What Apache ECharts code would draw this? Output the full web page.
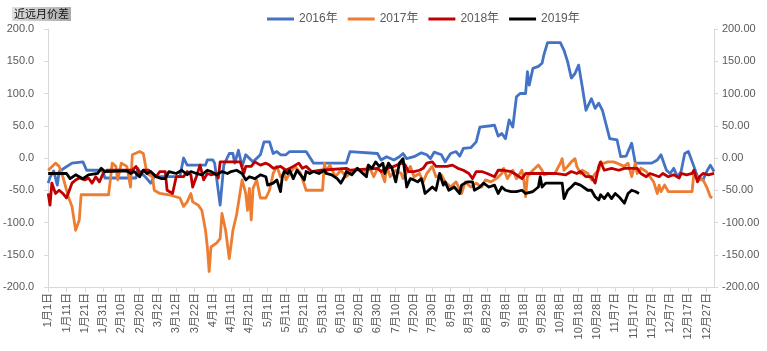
<!DOCTYPE html>
<html>
<head>
<meta charset="utf-8">
<script src="https://cdn.jsdelivr.net/npm/echarts@6/dist/echarts.min.js"></script>
<style>html,body{margin:0;padding:0;background:#fff;}#c{width:767px;height:351px;}</style>
</head>
<body>
<div id="c"></div>
<script>
// ---- data ----
const titleText = '近远月价差';
const seriesNames = ['2016年', '2017年', '2018年', '2019年'];
const monthDays = [31, 28, 31, 30, 31, 30, 31, 31, 30, 31, 30, 31];
const categories = [];
monthDays.forEach((n, m) => { for (let d = 1; d <= n; d++) categories.push((m + 1) + '月' + d + '日'); });
const yTicks = { min: -200, max: 200, interval: 50 };

// [day index, value]
const s2016 = [[0,-39],[1,-30],[3,-20],[5,-42],[6,-21],[13,-8],[19,-6],[21,-19],[28,-19],[30,-21],[31,-31],[48,-31],[49,-16],[50,-21],[53,-29],[56,-39],[58,-29],[64,-29],[72,-29],[74,0],[76,-11],[86,-11],[87,-3],[90,-3],[91,-8],[94,-73],[96,-11],[99,7],[101,7],[102,-8],[104,12],[106,-13],[108,5],[112,-6],[116,5],[118,25],[121,25],[123,7],[125,10],[127,5],[130,5],[132,10],[141,10],[144,-3],[145,-8],[163,-8],[165,10],[180,7],[182,-3],[185,2],[189,-3],[192,2],[194,7],[196,-1],[200,2],[204,8],[207,5],[209,-1],[211,9],[215,5],[217,-6],[220,7],[223,10],[225,3],[227,15],[231,16],[234,25],[236,48],[242,50],[244,51],[246,34],[248,38],[250,30],[252,59],[254,48],[256,95],[258,100],[261,100],[262,134],[263,113],[265,139],[268,142],[270,147],[271,160],[272,162],[273,179],[280,179],[282,167],[284,149],[286,124],[288,131],[290,144],[292,110],[294,74],[297,92],[299,77],[301,85],[303,74],[307,30],[311,28],[313,2],[316,3],[319,23],[321,-8],[330,-8],[333,-3],[335,5],[338,-19],[340,-24],[342,-16],[344,-29],[346,-21],[348,7],[350,10],[353,-13],[355,-29],[358,-34],[360,-21],[362,-11],[364,-21]];
const s2017 = [[0,-19],[4,-8],[6,-13],[8,-29],[11,-60],[12,-63],[13,-75],[15,-112],[17,-96],[18,-57],[33,-57],[34,-34],[35,-8],[37,-13],[38,-34],[40,-8],[43,-13],[45,-45],[46,5],[50,10],[52,7],[54,-24],[57,-29],[58,-50],[61,-55],[66,-57],[72,-62],[74,-75],[76,-68],[78,-55],[79,-68],[82,-73],[84,-81],[86,-112],[87,-138],[88,-176],[89,-138],[92,-132],[94,-125],[95,-86],[97,-112],[99,-156],[101,-112],[103,-88],[104,-91],[106,-34],[108,-55],[109,-81],[110,-47],[111,-96],[112,-47],[114,-34],[116,-62],[119,-62],[121,-50],[123,-24],[125,-13],[127,-29],[129,-24],[130,-34],[132,-24],[135,-13],[138,-24],[141,-50],[150,-50],[151,-8],[152,-21],[154,-11],[157,-29],[160,-19],[163,-29],[166,-21],[169,-16],[173,-24],[175,-11],[178,-29],[180,-16],[182,-21],[184,-37],[185,-13],[187,-29],[190,-19],[193,-24],[194,-32],[198,-13],[200,-29],[203,-24],[205,-37],[207,-24],[210,-13],[212,-29],[215,-26],[217,-37],[220,-45],[223,-37],[226,-55],[228,-37],[231,-45],[234,-39],[237,-45],[239,-34],[242,-37],[245,-32],[248,-24],[249,-16],[251,-32],[254,-19],[256,-32],[259,-19],[260,-34],[261,-60],[262,-29],[265,-19],[268,-11],[270,-19],[271,-26],[274,-24],[277,-24],[280,-8],[281,-1],[282,-19],[284,-13],[286,-6],[288,-1],[289,-13],[291,-24],[292,-19],[295,-24],[297,-34],[299,-24],[301,-19],[302,-8],[304,-8],[306,-6],[309,-6],[311,-8],[312,-6],[315,-13],[317,-8],[319,-29],[321,-8],[322,-24],[324,-16],[327,-21],[329,-29],[331,-37],[333,-55],[334,-42],[335,-52],[337,-42],[339,-52],[352,-52],[353,-24],[355,-29],[356,-34],[358,-34],[360,-45],[362,-60],[363,-62]];
const s2018 = [[0,-55],[1,-73],[2,-39],[4,-55],[6,-50],[8,-55],[10,-62],[12,-47],[13,-39],[15,-34],[17,-31],[20,-34],[22,-31],[24,-39],[26,-29],[28,-37],[30,-24],[32,-19],[46,-19],[48,-13],[50,-24],[52,-19],[55,-19],[57,-24],[59,-29],[61,-21],[64,-21],[65,-50],[68,-55],[70,-29],[74,-29],[76,-21],[78,-26],[79,-45],[81,-29],[83,-11],[85,-34],[87,-24],[89,-26],[92,-24],[93,-31],[94,-6],[105,-6],[106,-3],[107,-24],[108,-13],[111,-13],[113,-6],[116,-11],[119,-8],[121,-11],[123,-16],[127,-13],[130,-19],[131,-16],[134,-13],[137,-8],[139,-16],[141,-13],[144,-21],[149,-19],[163,-16],[165,-19],[180,-16],[182,-21],[185,-16],[189,-13],[193,-8],[195,-10],[197,-21],[200,-21],[203,-19],[205,-16],[207,-8],[210,-6],[212,-13],[218,-13],[221,-11],[224,-16],[227,-19],[230,-24],[232,-32],[234,-21],[237,-21],[240,-24],[244,-29],[246,-19],[249,-19],[253,-21],[256,-26],[259,-32],[261,-24],[262,-21],[277,-24],[283,-26],[286,-21],[289,-24],[291,-21],[294,-29],[297,-29],[299,-39],[301,-13],[302,-6],[304,-19],[308,-16],[312,-19],[315,-16],[322,-16],[324,-24],[325,-21],[327,-29],[329,-24],[331,-26],[334,-29],[336,-24],[339,-29],[342,-26],[345,-31],[346,-24],[349,-26],[352,-24],[353,-19],[355,-37],[356,-29],[358,-24],[361,-26],[364,-24]];
const s2019 = [[0,-24],[10,-24],[12,-32],[15,-26],[19,-32],[22,-26],[27,-24],[29,-16],[31,-21],[43,-20],[45,-24],[47,-21],[50,-29],[52,-19],[54,-24],[56,-21],[59,-29],[62,-32],[64,-32],[66,-21],[70,-24],[73,-19],[76,-26],[78,-21],[81,-24],[84,-26],[87,-19],[89,-21],[92,-26],[95,-21],[98,-24],[100,-21],[103,-19],[106,-24],[108,-34],[110,-29],[113,-32],[116,-26],[119,-29],[120,-42],[123,-39],[125,-34],[126,-34],[127,-52],[128,-29],[129,-21],[131,-24],[132,-19],[134,-32],[136,-19],[138,-26],[140,-34],[141,-21],[143,-24],[145,-21],[148,-24],[151,-19],[152,-24],[155,-26],[158,-32],[160,-39],[162,-29],[163,-21],[166,-26],[169,-16],[172,-24],[174,-29],[175,-11],[177,-16],[179,-6],[181,-13],[183,-8],[184,-24],[186,-8],[188,-16],[190,-37],[192,-8],[194,-1],[195,-1],[196,-45],[198,-32],[200,-34],[202,-37],[204,-32],[205,-42],[206,-55],[208,-50],[210,-45],[212,-50],[214,-24],[216,-42],[217,-37],[219,-50],[222,-45],[225,-55],[226,-42],[229,-37],[232,-37],[233,-50],[236,-45],[238,-39],[241,-45],[244,-42],[246,-55],[248,-45],[250,-50],[253,-52],[256,-52],[259,-50],[261,-55],[262,-52],[265,-52],[268,-45],[269,-29],[270,-45],[272,-39],[281,-39],[282,-63],[284,-50],[286,-45],[288,-39],[291,-42],[292,-45],[295,-50],[297,-50],[299,-60],[301,-65],[302,-57],[304,-63],[306,-55],[308,-63],[310,-55],[312,-60],[313,-57],[315,-70],[317,-55],[319,-50],[321,-52],[323,-55]];
const allSeries = [s2016, s2017, s2018, s2019];
const colors = ['#4472C4', '#ED7D31', '#C00000', '#000000'];

// ---- chart ----
const FONT = '"Liberation Sans", "Noto Sans CJK SC", sans-serif';
const chart = echarts.init(document.getElementById('c'), null, { renderer: 'canvas' });
const axisGray = '#D9D9D9';
const labelGray = '#595959';
const yCommon = {
  type: 'value', min: yTicks.min, max: yTicks.max, interval: yTicks.interval,
  splitLine: { show: false },
  axisLine: { show: true, lineStyle: { color: axisGray, width: 1 } },
  axisTick: { show: true, length: 4, lineStyle: { color: axisGray } }
};
chart.setOption({
  animation: false,
  backgroundColor: '#fff',
  title: {
    text: titleText, left: 12, top: 7, padding: [2, 2, 1, 2],
    backgroundColor: new echarts.graphic.LinearGradient(0, 0, 1, 1, [
      { offset: 0, color: '#e2e2e2' }, { offset: 1, color: '#a9a9a9' }]),
    textStyle: { fontSize: 11, fontWeight: 'normal', color: '#111', fontFamily: FONT }
  },
  legend: {
    top: 8, left: 262, itemWidth: 27, itemHeight: 3, itemGap: 10, icon: 'rect',
    textStyle: { fontSize: 12, color: labelGray, fontFamily: FONT },
    data: seriesNames
  },
  grid: { left: 48, right: 53, top: 29, bottom: 64 },
  xAxis: {
    type: 'category', data: categories, boundaryGap: false,
    axisLine: { onZero: false, lineStyle: { color: axisGray } },
    axisTick: { interval: 9, length: 5, lineStyle: { color: axisGray } },
    axisLabel: { interval: 9, rotate: 90, margin: 6, fontSize: 11, color: labelGray, fontFamily: FONT }
  },
  yAxis: [
    Object.assign({}, yCommon, { position: 'left',
      axisLabel: { formatter: v => v.toFixed(1), margin: 14, fontSize: 11, color: labelGray, fontFamily: FONT } }),
    Object.assign({}, yCommon, { position: 'right',
      axisLabel: { formatter: v => v.toFixed(2), margin: 8, fontSize: 11, color: labelGray, fontFamily: FONT } })
  ],
  series: allSeries.map((d, i) => ({
    name: seriesNames[i], type: 'line', data: d, yAxisIndex: 0,
    showSymbol: false, symbol: 'none', z: 2 + i,
    itemStyle: { color: colors[i] },
    lineStyle: { color: colors[i], width: 2.8, join: 'round' }
  }))
});
</script>
</body>
</html>
